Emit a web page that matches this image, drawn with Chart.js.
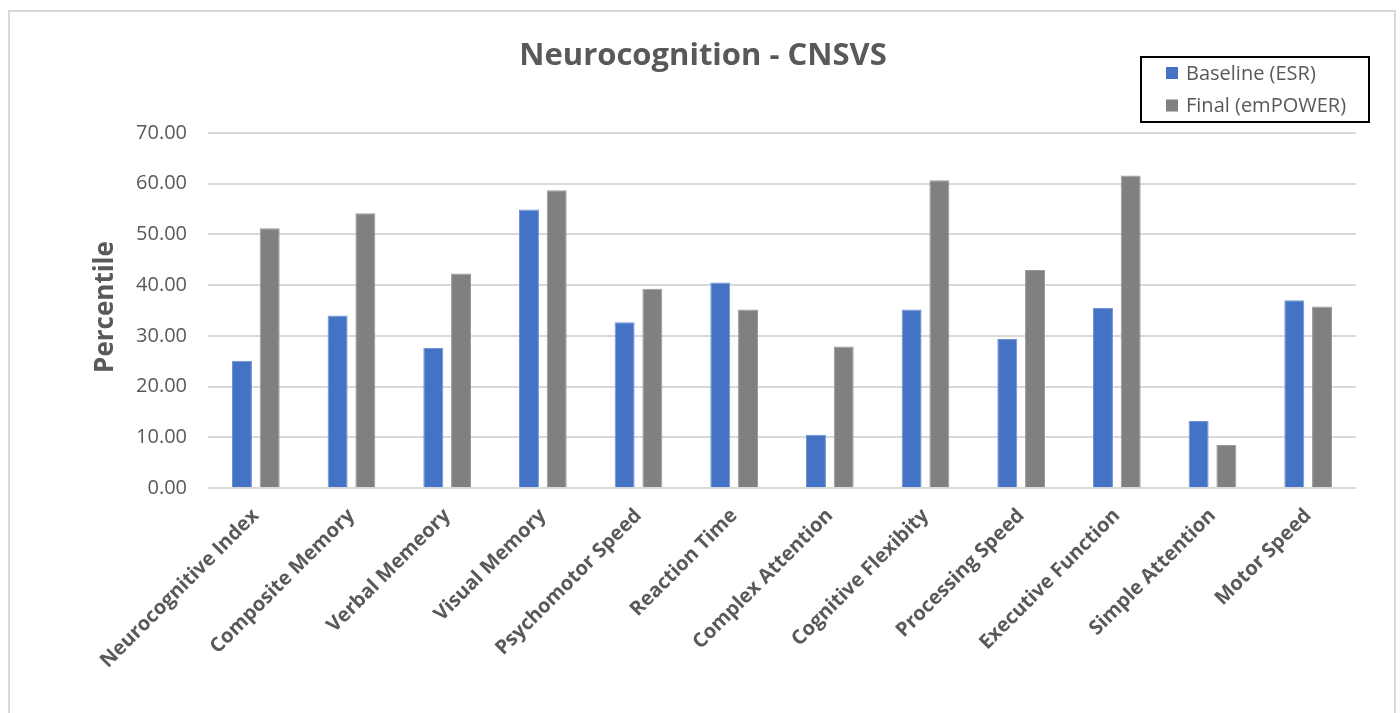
<!DOCTYPE html>
<html>
<head>
<meta charset="utf-8">
<script src="https://cdn.jsdelivr.net/npm/chart.js@4.4.1/dist/chart.umd.min.js"></script>
<style>
  html, body { margin: 0; padding: 0; background: #ffffff; }
  #wrap { position: relative; width: 1400px; height: 713px; }
  canvas { display: block; }
</style>
</head>
<body>
<div id="wrap"><canvas id="chart" width="1400" height="713"></canvas></div>
<script>
// CNSVS domains and percentile scores
const categories = [
  'Neurocognitive Index', 'Composite Memory', 'Verbal Memeory', 'Visual Memory',
  'Psychomotor Speed', 'Reaction Time', 'Complex Attention', 'Cognitive Flexibity',
  'Processing Speed', 'Executive Function', 'Simple Attention', 'Motor Speed'
];
const baselineESR = [25.1, 34.0, 27.6, 54.9, 32.7, 40.5, 10.5, 35.2, 29.4, 35.5, 13.2, 37.0];
const finalEmpower = [51.2, 54.2, 42.3, 58.7, 39.3, 35.2, 27.9, 60.7, 43.0, 61.6, 8.5, 35.8];
const seriesNames = ['Baseline (ESR)', 'Final (emPOWER)'];
const yTicks = [0, 10, 20, 30, 40, 50, 60, 70];

const TEXT = '#595959';
const FONT = "'Open Sans', 'Noto Sans', sans-serif";

// Frame, title, axis title and boxed legend drawn on the canvas
const decorations = {
  id: 'decorations',
  beforeDraw(chart) {
    const ctx = chart.ctx;
    ctx.save();
    ctx.strokeStyle = '#d9d9d9';
    ctx.lineWidth = 2;
    ctx.strokeRect(9, 11, 1386, 720);
    ctx.restore();
  },
  afterDraw(chart) {
    const ctx = chart.ctx;
    ctx.save();
    // title
    ctx.fillStyle = TEXT;
    ctx.font = "bold 31px " + FONT;
    ctx.textAlign = 'center';
    ctx.textBaseline = 'middle';
    ctx.fillText('Neurocognition - CNSVS', 703, 56);
    // y axis title
    ctx.save();
    ctx.translate(106, 307);
    ctx.rotate(-Math.PI / 2);
    ctx.font = "bold 26px " + FONT;
    ctx.fillText('Percentile', 0, 0);
    ctx.restore();
    // legend box
    ctx.strokeStyle = '#000000';
    ctx.lineWidth = 2;
    ctx.strokeRect(1141, 57, 228, 65);
    ctx.font = "20px " + FONT;
    ctx.textAlign = 'left';
    chart.data.datasets.forEach((ds, i) => {
      const cy = 73 + i * 32.5;
      ctx.fillStyle = ds.backgroundColor;
      ctx.fillRect(1166, cy - 6, 12, 12);
      ctx.fillStyle = TEXT;
      ctx.fillText(ds.label, 1186, cy + 1);
    });
    ctx.restore();
  }
};

new Chart(document.getElementById('chart'), {
  type: 'bar',
  data: {
    labels: categories,
    datasets: [
      { label: seriesNames[0], data: baselineESR, backgroundColor: '#4472C4', borderColor: '#6f93d4', borderWidth: 1 },
      { label: seriesNames[1], data: finalEmpower, backgroundColor: '#808080', borderColor: '#9a9a9a', borderWidth: 1 }
    ]
  },
  options: {
    responsive: false,
    animation: false,
    events: [],
    layout: { padding: { left: 0, top: 133, right: 44, bottom: 0 } },
    datasets: { bar: { categoryPercentage: 0.58, barPercentage: 0.72 } },
    plugins: {
      legend: { display: false },
      title: { display: false },
      tooltip: { enabled: false }
    },
    scales: {
      x: {
        grid: { display: false },
        border: { display: false },
        ticks: {
          color: TEXT,
          font: { family: FONT, size: 20, weight: 'bold' },
          minRotation: 45,
          maxRotation: 45,
          autoSkip: false,
          padding: 8,
          labelOffset: 0
        },
        afterFit(scale) { scale.height = 225; }
      },
      y: {
        min: 0,
        max: 70,
        afterBuildTicks(scale) { scale.ticks = yTicks.map(v => ({ value: v })); },
        grid: { color: '#d9d9d9', lineWidth: 2, drawTicks: false },
        border: { display: false },
        ticks: {
          color: TEXT,
          font: { family: FONT, size: 20 },
          padding: 21,
          callback: v => Number(v).toFixed(2)
        },
        afterFit(scale) { scale.width = 208; }
      }
    }
  },
  plugins: [decorations]
});
</script>
</body>
</html>
